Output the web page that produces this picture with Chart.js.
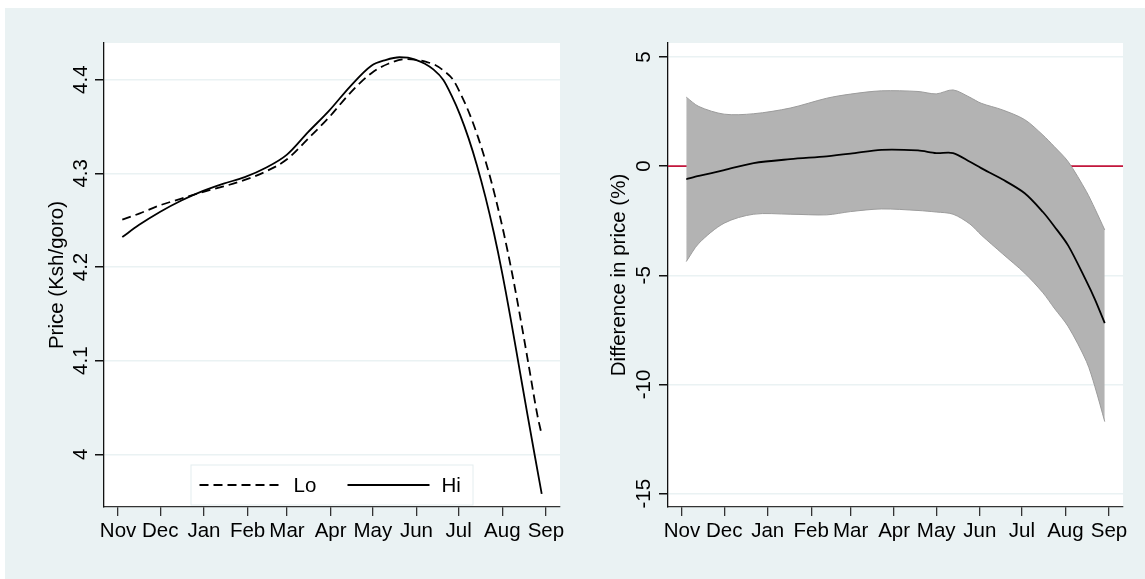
<!DOCTYPE html>
<html>
<head>
<meta charset="utf-8">
<script src="https://cdn.jsdelivr.net/npm/chart.js@4.4.1/dist/chart.umd.min.js"></script>
<style>
  body { margin: 0; background: #fff; }
  #page { position: relative; width: 1145px; height: 579px; overflow: hidden; }
  #bg { position: absolute; left: 5px; top: 8px; width: 1140px; height: 571px; background: #eaf2f3; }
  canvas { position: absolute; top: 0; }
  #left { left: 0; width: 572px; height: 579px; }
  #right { left: 572px; width: 573px; height: 579px; }
</style>
</head>
<body>
<div id="page">
  <div id="bg"></div>
  <canvas id="left" width="572" height="579"></canvas>
  <canvas id="right" width="573" height="579"></canvas>
</div>
<script>
// x axis: days counted from 1 November
const monthLabels = ["Nov", "Dec", "Jan", "Feb", "Mar", "Apr", "May", "Jun", "Jul", "Aug", "Sep"];
const monthDays = [0, 30, 61, 92, 120, 151, 181, 212, 242, 273, 304];

// left panel: smoothed price, Ksh/goro
const hiDays = [3, 15, 30, 45, 60, 75, 90, 105, 120, 135, 150, 165, 180, 190, 200, 206, 212, 218, 224, 231, 237, 243, 249, 255, 261, 267, 273, 279, 285, 291, 296, 301];
const hiPrice = [4.232, 4.245, 4.259, 4.271, 4.281, 4.289, 4.296, 4.306, 4.320, 4.344, 4.367, 4.393, 4.415, 4.421, 4.424, 4.4235, 4.421, 4.417, 4.411, 4.400, 4.383, 4.3625, 4.3376, 4.3085, 4.2749, 4.2365, 4.193, 4.1444, 4.0928, 4.0412, 3.9992, 3.9577];
const loDays = [3, 15, 30, 45, 60, 75, 90, 105, 120, 135, 150, 165, 180, 192, 205, 213, 219, 225, 231, 238, 244, 250, 256, 262, 268, 274, 280, 286, 292, 298, 301];
const loPrice = [4.2505, 4.257, 4.266, 4.273, 4.280, 4.286, 4.293, 4.302, 4.315, 4.337, 4.360, 4.386, 4.407, 4.417, 4.422, 4.421, 4.419, 4.416, 4.410, 4.400, 4.383, 4.3625, 4.3376, 4.3085, 4.2749, 4.2365, 4.193, 4.1444, 4.0928, 4.0412, 4.021];
const priceTicks = [4, 4.1, 4.2, 4.3, 4.4];

// right panel: difference in price (%), with confidence band
const diffDays = [3, 12, 30, 51, 77, 103, 120, 142, 168, 181, 193, 205, 213, 228, 244, 257, 265, 275, 288, 294, 301];
const diffMean = [-0.60, -0.45, -0.18, 0.14, 0.32, 0.45, 0.57, 0.75, 0.72, 0.60, 0.60, 0.20, -0.09, -0.60, -1.24, -2.10, -2.75, -3.64, -5.28, -6.10, -7.19];
const diffUpper = [3.16, 2.73, 2.38, 2.40, 2.66, 3.11, 3.30, 3.45, 3.42, 3.31, 3.49, 3.15, 2.88, 2.58, 2.13, 1.42, 0.90, 0.20, -1.17, -1.95, -2.92];
const diffLower = [-4.37, -3.53, -2.61, -2.20, -2.20, -2.23, -2.08, -1.96, -2.03, -2.10, -2.20, -2.65, -3.15, -4.00, -4.90, -5.80, -6.50, -7.35, -8.95, -10.10, -11.70];
const diffTicks = [-15, -10, -5, 0, 5];
const refLine = 0;

const xMin = -10, xMax = 314;
const FONT = '"Liberation Sans", Arial, sans-serif';
Chart.defaults.font.family = FONT;
Chart.defaults.color = "#000";

const pts = (xs, ys) => xs.map((x, i) => ({ x: x, y: ys[i] }));

const plotBg = {
  id: "plotBg",
  beforeDraw(chart) {
    const a = chart.chartArea, ctx = chart.ctx;
    ctx.save();
    ctx.fillStyle = "#fff";
    ctx.fillRect(a.left, a.top, a.right - a.left, a.bottom - a.top);
    ctx.restore();
  }
};

// Stata style vertical tick labels
const vertTicks = {
  id: "vertTicks",
  afterDraw(chart, args, opts) {
    const s = chart.scales.y, ctx = chart.ctx;
    ctx.save();
    ctx.font = "20.5px " + FONT;
    ctx.fillStyle = "#000";
    ctx.textAlign = "center";
    ctx.textBaseline = "middle";
    s.ticks.forEach(t => {
      ctx.save();
      ctx.translate(s.right - opts.offset, s.getPixelForValue(t.value));
      ctx.rotate(-Math.PI / 2);
      ctx.fillText(String(t.value), 0, 0);
      ctx.restore();
    });
    ctx.restore();
  }
};

const lineKey = {
  id: "lineKey",
  afterDraw(chart) {
    const a = chart.chartArea, ctx = chart.ctx;
    const w = 283, h = 41;
    const x0 = (a.left + a.right) / 2 - w / 2;
    const y0 = a.bottom - 1.5 - h;
    const ym = y0 + h / 2;
    ctx.save();
    ctx.fillStyle = "#fff";
    ctx.fillRect(x0, y0, w, h);
    ctx.strokeStyle = "#e4edef";
    ctx.lineWidth = 1;
    ctx.strokeRect(x0 + 0.5, y0 + 0.5, w - 1, h - 1);
    const slots = [[9, 89, 103], [157, 239, 251]];
    chart.data.datasets.forEach((ds, i) => {
      const sl = slots[i];
      ctx.strokeStyle = ds.borderColor;
      ctx.lineWidth = ds.borderWidth;
      ctx.setLineDash(ds.borderDash || []);
      ctx.beginPath();
      ctx.moveTo(x0 + sl[0], ym);
      ctx.lineTo(x0 + sl[1], ym);
      ctx.stroke();
      ctx.setLineDash([]);
      ctx.fillStyle = "#000";
      ctx.font = "20.5px " + FONT;
      ctx.textAlign = "left";
      ctx.textBaseline = "middle";
      ctx.fillText(ds.label, x0 + sl[2], ym + 1);
    });
    ctx.restore();
  }
};

function xScale() {
  return {
    type: "linear",
    min: xMin,
    max: xMax,
    afterBuildTicks: s => { s.ticks = monthDays.map(v => ({ value: v })); },
    afterFit: s => { s.height = 72; },
    ticks: {
      autoSkip: false, maxRotation: 0, minRotation: 0, padding: 3,
      font: { size: 20.5 },
      callback: (v) => monthLabels[monthDays.indexOf(v)]
    },
    grid: { drawOnChartArea: false, drawTicks: true, tickLength: 9, tickColor: "#333", lineWidth: 1.3 },
    border: { color: "#333", width: 1.3 }
  };
}

function yScale(min, max, tickVals, title, width, titlePad) {
  return {
    type: "linear",
    min: min,
    max: max,
    afterBuildTicks: s => { s.ticks = tickVals.map(v => ({ value: v })); },
    afterFit: s => { s.width = width; },
    ticks: { display: false },
    grid: { color: "#eaf2f3", lineWidth: 1.5, drawTicks: true, tickLength: 9, tickColor: "#111" },
    border: { color: "#111", width: 1.3 },
    title: { display: true, text: title, font: { size: 20.5 }, color: "#000", padding: { top: titlePad, bottom: 0 } }
  };
}

const common = {
  responsive: false,
  animation: false,
  events: [],
  plugins: { legend: { display: false }, tooltip: { enabled: false } }
};

new Chart(document.getElementById("left"), {
  type: "line",
  data: {
    datasets: [
      { label: "Lo", data: pts(loDays, loPrice), borderColor: "#000", borderWidth: 1.8, borderDash: [9, 5],
        pointRadius: 0, cubicInterpolationMode: "monotone", fill: false },
      { label: "Hi", data: pts(hiDays, hiPrice), borderColor: "#000", borderWidth: 1.8,
        pointRadius: 0, cubicInterpolationMode: "monotone", fill: false }
    ]
  },
  options: Object.assign({}, common, {
    layout: { padding: { left: 0, top: 43, right: 12, bottom: 0 } },
    scales: {
      x: xScale(),
      y: yScale(3.9437, 4.4392, priceTicks, "Price (Ksh/goro)", 104, 45.5)
    },
    plugins: Object.assign({}, common.plugins, { vertTicks: { offset: 23 } })
  }),
  plugins: [plotBg, vertTicks, lineKey]
});

new Chart(document.getElementById("right"), {
  type: "line",
  data: {
    datasets: [
      { label: "upper", data: pts(diffDays, diffUpper), borderColor: "#9c9c9c", borderWidth: 1,
        backgroundColor: "#b3b3b3", fill: "+1", pointRadius: 0, tension: 0.3, order: 2 },
      { label: "lower", data: pts(diffDays, diffLower), borderColor: "#9c9c9c", borderWidth: 1,
        fill: false, pointRadius: 0, tension: 0.3, order: 1.5 },
      { label: "mean", data: pts(diffDays, diffMean), borderColor: "#000", borderWidth: 1.8,
        fill: false, pointRadius: 0, tension: 0.3, order: 1 },
      { label: "zero", data: [{ x: xMin, y: refLine }, { x: xMax, y: refLine }], borderColor: "#c4163c",
        borderWidth: 1.8, fill: false, pointRadius: 0, order: 4 }
    ]
  },
  options: Object.assign({}, common, {
    layout: { padding: { left: 0, top: 43, right: 22, bottom: 0 } },
    scales: {
      x: xScale(),
      y: yScale(-15.61, 5.64, diffTicks, "Difference in price (%)", 96, 35)
    },
    plugins: Object.assign({}, common.plugins, { vertTicks: { offset: 23.5 } })
  }),
  plugins: [plotBg, vertTicks]
});
</script>
</body>
</html>
